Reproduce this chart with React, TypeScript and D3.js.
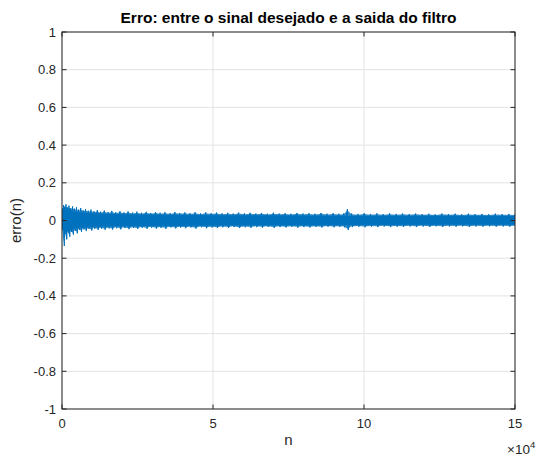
import React from 'react';
import * as d3 from 'd3';

// x values are n / 1000
const xTickValues = [0, 50, 100, 150];
const xTickLabels = ['0', '5', '10', '15'];
const yTickValues = [-1, -0.8, -0.6, -0.4, -0.2, 0, 0.2, 0.4, 0.6, 0.8, 1];
const yTickLabels = ['-1', '-0.8', '-0.6', '-0.4', '-0.2', '0', '0.2', '0.4', '0.6', '0.8', '1'];

// solid core of the error band
const coreN = [0, 2, 5, 10, 20, 35, 55, 80, 110, 150];
const coreHi = [0.055, 0.055, 0.045, 0.038, 0.033, 0.03, 0.028, 0.027, 0.025, 0.024];
const coreLo = [-0.05, -0.055, -0.04, -0.035, -0.031, -0.029, -0.027, -0.026, -0.024, -0.023];

// spike extremes of the error signal
const spikeN = [
  0.1, 0.5, 0.9, 1.3, 1.8, 2.3, 2.9, 3.5, 4.1, 4.8,
  5.5, 6.2, 7.0, 7.8, 8.7, 9.6, 10.6, 11.7, 12.8, 14.0,
  15.3, 16.5, 17.8, 19.2, 20.5, 21.9, 23.4, 24.8, 26.3, 27.9,
  29.4, 31.0, 32.5, 34.1, 35.8, 37.4, 39.0, 40.7, 42.4, 44.1,
  45.9, 47.6, 49.4, 51.2, 53.0, 54.9, 56.7, 58.5, 60.4, 62.3,
  64.2, 66.1, 68.0, 70.0, 71.9, 73.9, 75.8, 77.8, 79.8, 81.8,
  83.8, 85.8, 87.8, 89.8, 91.7, 93.3, 94.5, 95.9, 98.0, 100.1,
  102.2, 104.3, 106.4, 108.5, 110.7, 112.8, 115.0, 117.1, 119.3, 121.5,
  123.6, 125.8, 128.0, 130.2, 132.4, 134.6, 136.8, 139.1, 141.3, 143.5,
  145.8, 148.0, 150.0,
];
const spikeHi = [
  0.065, 0.082, 0.074, 0.086, 0.07, 0.079, 0.066, 0.075, 0.063, 0.07,
  0.058, 0.066, 0.055, 0.061, 0.052, 0.058, 0.049, 0.055, 0.047, 0.053,
  0.045, 0.051, 0.044, 0.049, 0.043, 0.048, 0.042, 0.047, 0.041, 0.046,
  0.04, 0.045, 0.041, 0.044, 0.039, 0.045, 0.04, 0.043, 0.039, 0.044,
  0.038, 0.043, 0.039, 0.042, 0.038, 0.041, 0.037, 0.042, 0.038, 0.041,
  0.037, 0.04, 0.036, 0.041, 0.037, 0.039, 0.036, 0.04, 0.037, 0.039,
  0.036, 0.04, 0.036, 0.039, 0.036, 0.038, 0.06, 0.037, 0.035, 0.039,
  0.035, 0.038, 0.034, 0.038, 0.035, 0.037, 0.034, 0.037, 0.034, 0.036,
  0.033, 0.037, 0.034, 0.036, 0.033, 0.036, 0.034, 0.035, 0.033, 0.036,
  0.034, 0.035, 0.033,
];
const spikeLo = [
  -0.05, -0.135, -0.07, -0.1, -0.064, -0.086, -0.06, -0.075, -0.055, -0.068,
  -0.05, -0.06, -0.047, -0.056, -0.045, -0.053, -0.044, -0.05, -0.043, -0.049,
  -0.042, -0.048, -0.041, -0.047, -0.04, -0.046, -0.04, -0.045, -0.039, -0.044,
  -0.038, -0.043, -0.039, -0.044, -0.037, -0.042, -0.038, -0.041, -0.037, -0.043,
  -0.036, -0.041, -0.037, -0.04, -0.036, -0.039, -0.035, -0.04, -0.036, -0.039,
  -0.035, -0.038, -0.034, -0.039, -0.035, -0.037, -0.034, -0.038, -0.035, -0.037,
  -0.034, -0.037, -0.033, -0.036, -0.034, -0.036, -0.05, -0.035, -0.033, -0.036,
  -0.033, -0.035, -0.032, -0.035, -0.033, -0.034, -0.032, -0.035, -0.032, -0.034,
  -0.031, -0.034, -0.032, -0.033, -0.031, -0.034, -0.032, -0.033, -0.031, -0.033,
  -0.032, -0.033, -0.031,
];

const W = 551;
const H = 457;
const M = { left: 62, right: 515, top: 32, bottom: 409 };
const BLUE = '#0072BD';
const AX = '#262626';
const FONT = '"Liberation Sans", Arial, Helvetica, sans-serif';

type Pt = { n: number; hi: number; lo: number };

export default function App() {
  const x = d3.scaleLinear().domain([0, 150]).range([M.left, M.right]);
  const y = d3.scaleLinear().domain([-1, 1]).range([M.bottom, M.top]);

  const core: Pt[] = coreN.map((n, i) => ({ n, hi: coreHi[i], lo: coreLo[i] }));
  const coreArea = d3
    .area<Pt>()
    .x((d) => x(d.n))
    .y0((d) => y(d.lo))
    .y1((d) => y(d.hi))
    .curve(d3.curveMonotoneX)(core) as string;

  const zig: [number, number][] = [];
  spikeN.forEach((n, i) => {
    zig.push([x(n), y(spikeHi[i])]);
    zig.push([x(n) + 0.8, y(spikeLo[i])]);
  });
  const zigPath = d3.line()(zig) as string;

  const fringe: Pt[] = spikeN.map((n, i) => ({ n, hi: spikeHi[i] * 0.88, lo: spikeLo[i] * 0.88 }));
  const fringeArea = d3
    .area<Pt>()
    .x((d) => x(d.n))
    .y0((d) => y(d.lo))
    .y1((d) => y(d.hi))(fringe) as string;

  const tl = 4.5;

  return (
    <svg width={W} height={H} style={{ position: 'absolute', left: 0, top: 0, background: '#fff' }}>
      <rect x={0} y={0} width={W} height={H} fill="#fff" />
      <defs>
        <clipPath id="plotclip">
          <rect x={M.left} y={M.top} width={M.right - M.left} height={M.bottom - M.top} />
        </clipPath>
      </defs>
      {/* grid */}
      {xTickValues.map((v) => (
        <line key={'gx' + v} x1={x(v)} x2={x(v)} y1={M.top} y2={M.bottom} stroke="#e3e3e3" strokeWidth={1} />
      ))}
      {yTickValues.map((v) => (
        <line key={'gy' + v} x1={M.left} x2={M.right} y1={y(v)} y2={y(v)} stroke="#e3e3e3" strokeWidth={1} />
      ))}
      {/* signal */}
      <g clipPath="url(#plotclip)">
        <path d={fringeArea} fill={BLUE} opacity={0.8} />
        <path d={coreArea} fill={BLUE} />
        <path d={zigPath} fill="none" stroke={BLUE} strokeWidth={1} />
      </g>
      {/* box */}
      <rect x={M.left} y={M.top} width={M.right - M.left} height={M.bottom - M.top} fill="none" stroke={AX} strokeWidth={1} />
      {/* ticks */}
      {xTickValues.map((v) => (
        <g key={'tx' + v}>
          <line x1={x(v)} x2={x(v)} y1={M.bottom} y2={M.bottom - tl} stroke={AX} />
          <line x1={x(v)} x2={x(v)} y1={M.top} y2={M.top + tl} stroke={AX} />
        </g>
      ))}
      {yTickValues.map((v) => (
        <g key={'ty' + v}>
          <line x1={M.left} x2={M.left + tl} y1={y(v)} y2={y(v)} stroke={AX} />
          <line x1={M.right} x2={M.right - tl} y1={y(v)} y2={y(v)} stroke={AX} />
        </g>
      ))}
      {/* tick labels */}
      {xTickValues.map((v, i) => (
        <text key={'lx' + v} x={x(v)} y={M.bottom + 19} textAnchor="middle" fontFamily={FONT} fontSize={13} fill={AX}>
          {xTickLabels[i]}
        </text>
      ))}
      {yTickValues.map((v, i) => (
        <text key={'ly' + v} x={M.left - 6} y={y(v) + 4.5} textAnchor="end" fontFamily={FONT} fontSize={13} fill={AX}>
          {yTickLabels[i]}
        </text>
      ))}
      {/* exponent */}
      <text x={507} y={454} fontFamily={FONT} fontSize={13.5} fill={AX}>
        <tspan>×10</tspan>
        <tspan dy={-6} fontSize={9.5}>4</tspan>
      </text>
      {/* axis labels */}
      <text x={(M.left + M.right) / 2} y={M.bottom + 36} textAnchor="middle" fontFamily={FONT} fontSize={15} fill={AX}>
        n
      </text>
      <text
        transform={`translate(${M.left - 41},${y(0)}) rotate(-90)`}
        textAnchor="middle"
        fontFamily={FONT}
        fontSize={15}
        fill={AX}
      >
        erro(n)
      </text>
      {/* title */}
      <text x={(M.left + M.right) / 2} y={M.top - 9} textAnchor="middle" fontFamily={FONT} fontSize={15.5} fontWeight="bold" fill="#000">
        Erro: entre o sinal desejado e a saida do filtro
      </text>
    </svg>
  );
}
